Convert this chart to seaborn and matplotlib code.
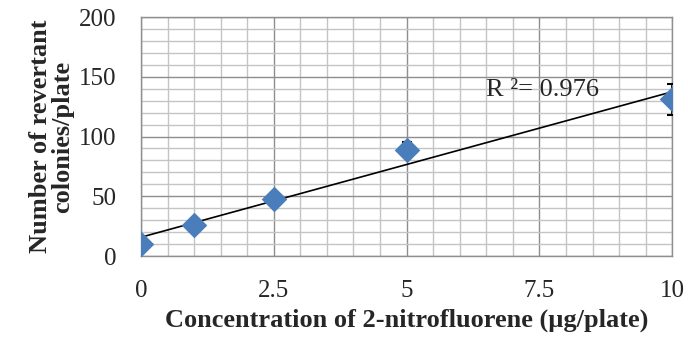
import numpy as np
import pandas as pd
import matplotlib
matplotlib.use("Agg")
import matplotlib.pyplot as plt
from matplotlib.ticker import MultipleLocator
import seaborn as sns

# Data
concentration = [0, 1, 2.5, 5, 10]
revertants = [10, 26, 48, 89, 131]
error = [2, 3, 3, 6.5, 13]
r_squared = 0.976

df = pd.DataFrame({"conc": concentration, "rev": revertants, "err": error})

sns.set_style("white")
plt.rcParams['font.family'] = ['Liberation Serif', 'DejaVu Serif']

fig = plt.figure(figsize=(6.88, 3.47), dpi=100)
ax = fig.add_axes([0.205, 0.262, 0.772, 0.689])

# Grid (Excel-style major + minor)
ax.set_xlim(0, 10)
ax.set_ylim(0, 200)
ax.xaxis.set_major_locator(MultipleLocator(2.5))
ax.xaxis.set_minor_locator(MultipleLocator(0.5))
ax.yaxis.set_major_locator(MultipleLocator(50))
ax.yaxis.set_minor_locator(MultipleLocator(10))
ax.grid(which="minor", color="#c4c4c4", linewidth=1.0)
ax.grid(which="major", color="#8e8e8e", linewidth=1.0)
ax.set_axisbelow(True)
for side in ax.spines.values():
    side.set_color("#8e8e8e")
    side.set_linewidth(1.0)

# Linear trendline
sns.regplot(data=df, x="conc", y="rev", scatter=False, ci=None, ax=ax,
            line_kws={"color": "black", "linewidth": 1.2}, truncate=True)

# Error bars and points
ax.errorbar(df["conc"], df["rev"], yerr=df["err"], fmt="none",
            ecolor="black", elinewidth=1.2, capsize=3.5, capthick=1.5, zorder=3)
sns.scatterplot(data=df, x="conc", y="rev", marker="D", s=170,
                color="#4a7ebb", edgecolor="#4a7ebb", linewidth=0, ax=ax, zorder=4)

ax.text(6.5, 139, f"R ²= {r_squared}", fontsize=19, va="center", ha="left")

ax.set_xticks([0, 2.5, 5, 7.5, 10])
ax.set_xticklabels(["0", "2.5", "5", "7.5", "10"])
ax.tick_params(axis="both", which="major", labelsize=18, length=6, width=1,
               color="#8e8e8e", direction="out")
ax.tick_params(axis="x", which="major", pad=11)
ax.tick_params(axis="y", which="major", pad=12)
ax.tick_params(which="minor", length=0)

ax.set_xlabel("Concentration of 2-nitrofluorene (µg/plate)", fontsize=19,
              fontweight="bold", labelpad=5)
ax.set_ylabel("Number of revertant\ncolonies/plate", fontsize=19,
              fontweight="bold", labelpad=3, linespacing=0.95)

fig.savefig("out.png", dpi=100)
